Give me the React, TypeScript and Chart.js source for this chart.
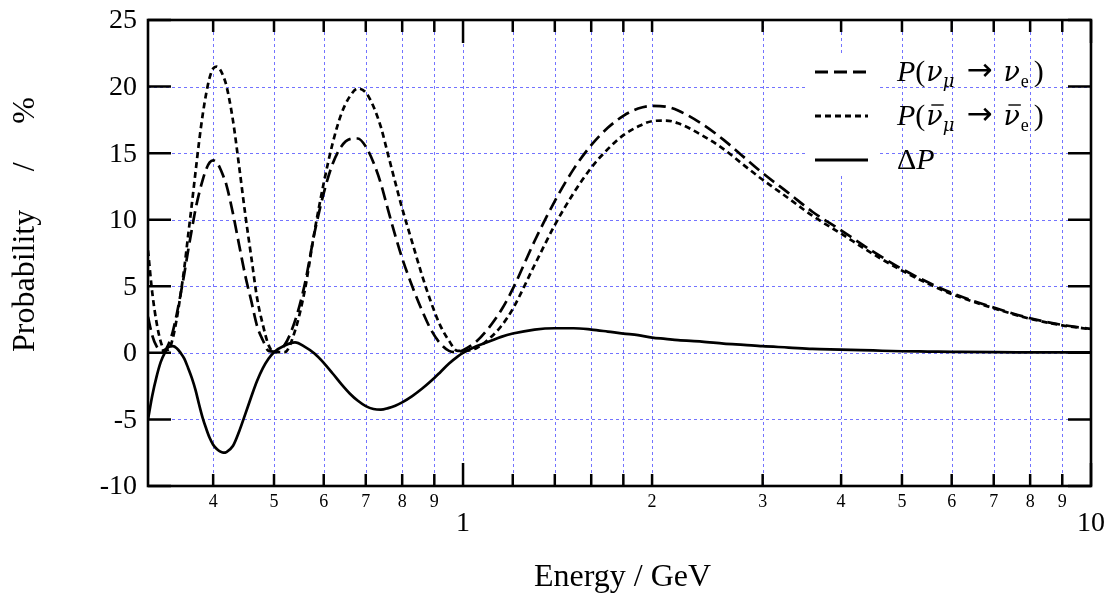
import React, { useEffect, useRef } from "react";
import { Chart, registerables } from "chart.js";

Chart.register(...registerables);

// ---------------- data ----------------
const energies = [
  0.315, 0.32, 0.325, 0.33, 0.335, 0.34, 0.345, 0.35, 0.355, 0.36, 0.365, 0.37, 0.375, 0.38, 0.385,
  0.39, 0.395, 0.4, 0.405, 0.41, 0.415, 0.42, 0.43, 0.44, 0.45, 0.46, 0.47, 0.48, 0.49, 0.5,
  0.52, 0.54, 0.56, 0.58, 0.6, 0.62, 0.64, 0.66, 0.68, 0.7, 0.72, 0.74, 0.76, 0.78, 0.8, 0.83,
  0.86, 0.89, 0.92, 0.95, 0.98,
  1.0, 1.05, 1.1, 1.15, 1.2, 1.3, 1.4, 1.5, 1.6, 1.7, 1.8, 1.9, 2.0, 2.1, 2.2, 2.4, 2.6, 2.8,
  3.0, 3.3, 3.6, 4.0, 4.5, 5, 5.5, 6, 7, 8, 9, 10,
];

const pNuMuToNuE = [
  2.7, 1.3, 0.5, 0.15, 0.2, 0.7, 1.6, 2.9, 4.4, 6.0, 7.7, 9.3, 10.8, 12.0, 13.0,
  13.8, 14.3, 14.45, 14.3, 13.9, 13.3, 12.6, 10.5, 8.1, 5.8, 3.9, 2.0, 0.95, 0.15, 0.1,
  0.6, 2.4, 5.2, 9.0, 12.0, 14.2, 15.5, 16.05, 16.1, 15.5, 14.3, 12.7, 10.7, 8.8, 7.1, 5.0,
  3.2, 1.7, 0.7, 0.15, 0.05,
  0.2, 0.85, 1.9, 3.2, 4.8, 8.4, 11.4, 13.8, 15.6, 16.9, 17.8, 18.35, 18.55, 18.5, 18.2, 17.2, 16.0, 14.7,
  13.5, 12.0, 10.6, 9.2, 7.6, 6.3, 5.3, 4.5, 3.4, 2.6, 2.1, 1.8,
];

const pAntiNuMuToAntiNuE = [
  7.7, 4.5, 2.3, 0.85, 0.2, 0.25, 1.1, 2.55, 4.4, 6.45, 8.85, 11.2, 13.6, 15.9, 17.9,
  19.5, 20.7, 21.35, 21.5, 21.3, 20.8, 20.05, 17.5, 14.0, 10.4, 7.2, 4.1, 2.1, 0.6, 0.05,
  0.05, 1.65, 4.75, 9.1, 12.75, 15.75, 17.95, 19.25, 19.85, 19.55, 18.5, 16.95, 14.85, 12.8, 10.85, 8.3,
  5.85, 3.75, 2.05, 0.9, 0.15,
  0.15, 0.35, 1.05, 2.0, 3.3, 6.6, 9.6, 12.0, 13.9, 15.3, 16.35, 17.0, 17.4, 17.45, 17.25, 16.35, 15.3, 14.1,
  13.0, 11.6, 10.3, 8.95, 7.42, 6.18, 5.2, 4.42, 3.35, 2.56, 2.07, 1.77,
];

const deltaP = [
  -5.0, -3.2, -1.8, -0.7, 0.0, 0.45, 0.5, 0.35, 0.0, -0.45, -1.15, -1.9, -2.8, -3.9, -4.9,
  -5.7, -6.4, -6.9, -7.2, -7.4, -7.5, -7.45, -7.0, -5.9, -4.6, -3.3, -2.1, -1.15, -0.45, 0.05,
  0.55, 0.78, 0.45, -0.05, -0.75, -1.55, -2.35, -3.05, -3.6, -4.0, -4.22, -4.27, -4.15, -3.97, -3.72, -3.25,
  -2.7, -2.1, -1.45, -0.8, -0.28,
  0.0, 0.5, 0.85, 1.2, 1.45, 1.75, 1.85, 1.85, 1.75, 1.6, 1.45, 1.33, 1.15, 1.05, 0.95, 0.85, 0.7, 0.6,
  0.5, 0.4, 0.3, 0.25, 0.18, 0.12, 0.1, 0.08, 0.05, 0.04, 0.03, 0.03,
];

const xMin = 0.315;
const xMax = 10;
const xTickValues = [0.4, 0.5, 0.6, 0.7, 0.8, 0.9, 1, 1.2, 1.4, 1.6, 1.8, 2, 3, 4, 5, 6, 7, 8, 9, 10];
const xTickLabels = ["4", "5", "6", "7", "8", "9", "1", "", "", "", "", "2", "3", "4", "5", "6", "7", "8", "9", "10"];
const xMajorTicks = [1, 10];
const yMin = -10;
const yMax = 25;
const yTickValues = [-10, -5, 0, 5, 10, 15, 20, 25];
const yTickLabels = ["-10", "-5", "0", "5", "10", "15", "20", "25"];

const xTitle = "Energy / GeV";
const yTitleWords = ["Probability", "/", "%"];

// ---------------- styling ----------------
const FONT = '"Liberation Serif", "DejaVu Serif", serif';
const GREEK = '"DejaVu Serif", "Liberation Serif", serif';
const ARROW_FONT = '"DejaVu Sans", "DejaVu Serif", sans-serif';
const GRID_COLOR = "rgba(90, 90, 255, 0.85)";

type Piece = { t: string; italic?: boolean; sub?: boolean; bar?: boolean; family?: string; padL?: number; padR?: number; size?: number };

const nuPieces = (bar: boolean): Piece[] => [
  { t: "P", italic: true },
  { t: "(", padR: 1 },
  { t: "\u03BD", italic: true, bar, family: GREEK, size: 27 },
  { t: "\u03BC", italic: true, sub: true, family: GREEK },
  { t: "\u2192", family: ARROW_FONT, padL: 12, padR: 11, size: 31 },
  { t: "\u03BD", italic: true, bar, family: GREEK, size: 27 },
  { t: "e", sub: true, padL: 1 },
  { t: ")", padL: 5 },
];

const legendRows: { dash: number[]; pieces: Piece[] }[] = [
  { dash: [13, 6], pieces: nuPieces(false) },
  { dash: [6, 4], pieces: nuPieces(true) },
  { dash: [], pieces: [{ t: "\u0394" }, { t: "P", italic: true }] },
];

function drawMath(ctx: CanvasRenderingContext2D, x0: number, baseline: number, pieces: Piece[]) {
  let x = x0;
  ctx.textAlign = "left";
  ctx.textBaseline = "alphabetic";
  for (const p of pieces) {
    const size = p.size || (p.sub ? 18 : 30);
    ctx.font = `${p.italic ? "italic " : ""}${size}px ${p.family || FONT}`;
    x += p.padL || 0;
    const y = p.sub ? baseline + 6 : p.family === ARROW_FONT ? baseline - 1 : baseline;
    ctx.fillText(p.t, x, y);
    const w = ctx.measureText(p.t).width;
    if (p.bar) {
      ctx.save();
      ctx.lineWidth = 1.4;
      ctx.setLineDash([]);
      ctx.beginPath();
      ctx.moveTo(x + 5, baseline - 20);
      ctx.lineTo(x + w + 1, baseline - 20);
      ctx.stroke();
      ctx.restore();
    }
    x += w + (p.padR || 0);
  }
}

const gridPlugin = {
  id: "gridManual",
  beforeDatasetsDraw(chart: any) {
    const { ctx, chartArea: a, scales } = chart;
    ctx.save();
    ctx.strokeStyle = GRID_COLOR;
    ctx.lineWidth = 1;
    ctx.setLineDash([3, 3]);
    ctx.beginPath();
    xTickValues.forEach((v) => {
      const x = Math.round(scales.x.getPixelForValue(v)) + 0.5;
      ctx.moveTo(x, a.top);
      ctx.lineTo(x, a.bottom);
    });
    yTickValues.forEach((v) => {
      const y = Math.round(scales.y.getPixelForValue(v)) + 0.5;
      ctx.moveTo(a.left, y);
      ctx.lineTo(a.right, y);
    });
    ctx.stroke();
    ctx.restore();
  },
};

const decorPlugin = {
  id: "decor",
  afterDatasetsDraw(chart: any) {
    const { ctx, chartArea: a, scales } = chart;
    const xs = scales.x;
    const ys = scales.y;
    ctx.save();

    // legend
    ctx.fillStyle = "#fff";
    ctx.fillRect(808, 56, 70, 118);
    ctx.fillStyle = "#000";
    ctx.strokeStyle = "#000";
    ctx.lineWidth = 2.8;
    legendRows.forEach((row, i) => {
      const cy = 72 + i * 44;
      ctx.setLineDash(row.dash);
      ctx.beginPath();
      ctx.moveTo(815, cy);
      ctx.lineTo(868, cy);
      ctx.stroke();
      ctx.setLineDash([]);
      drawMath(ctx, 897, cy + 9, row.pieces);
    });

    // inward ticks
    ctx.setLineDash([]);
    ctx.lineWidth = 2.5;
    ctx.beginPath();
    yTickValues.forEach((v) => {
      const y = ys.getPixelForValue(v);
      ctx.moveTo(a.left, y);
      ctx.lineTo(a.left + 23, y);
      ctx.moveTo(a.right, y);
      ctx.lineTo(a.right - 23, y);
    });
    xTickValues.forEach((v) => {
      const x = xs.getPixelForValue(v);
      const len = xMajorTicks.includes(v) ? 23 : 12;
      ctx.moveTo(x, a.bottom);
      ctx.lineTo(x, a.bottom - len);
      ctx.moveTo(x, a.top);
      ctx.lineTo(x, a.top + len);
    });
    ctx.stroke();

    // frame
    ctx.lineWidth = 2.6;
    ctx.strokeRect(a.left, a.top, a.right - a.left, a.bottom - a.top);

    // y tick labels
    ctx.fillStyle = "#000";
    ctx.font = `28px ${FONT}`;
    ctx.textAlign = "right";
    ctx.textBaseline = "middle";
    yTickValues.forEach((v, i) => {
      ctx.fillText(yTickLabels[i], a.left - 11, ys.getPixelForValue(v) + 1);
    });

    // x tick labels
    ctx.textAlign = "center";
    ctx.textBaseline = "alphabetic";
    xTickValues.forEach((v, i) => {
      const label = xTickLabels[i];
      if (!label) return;
      const x = xs.getPixelForValue(v);
      if (xMajorTicks.includes(v)) {
        ctx.font = `28px ${FONT}`;
        ctx.fillText(label, x, a.bottom + 45);
      } else {
        ctx.font = `18px ${FONT}`;
        ctx.fillText(label, x, a.bottom + 21);
      }
    });

    // axis titles
    ctx.font = `32px ${FONT}`;
    ctx.textAlign = "center";
    ctx.textBaseline = "alphabetic";
    ctx.fillText(xTitle, (a.left + a.right) / 2 + 3, 586);

    // y title: spans from y=352 (start) to y=97 (end), words spread
    ctx.save();
    ctx.translate(34, 352);
    ctx.rotate(-Math.PI / 2);
    ctx.textAlign = "left";
    const widths = yTitleWords.map((w) => ctx.measureText(w).width);
    const total = 255;
    const gap = (total - widths.reduce((s, w) => s + w, 0)) / (yTitleWords.length - 1);
    let px = 0;
    yTitleWords.forEach((w, i) => {
      ctx.fillText(w, px, 0);
      px += widths[i] + gap;
    });
    ctx.restore();

    ctx.restore();
  },
};

export default function App() {
  const canvasRef = useRef<HTMLCanvasElement | null>(null);

  useEffect(() => {
    document.body.style.margin = "0";
    const canvas = canvasRef.current;
    if (!canvas) return;

    const toPoints = (vals: number[]) => energies.map((e, i) => ({ x: e, y: vals[i] }));

    const common = {
      borderColor: "#000",
      backgroundColor: "#000",
      borderWidth: 2.7,
      pointRadius: 0,
      fill: false,
      cubicInterpolationMode: "monotone" as const,
    };

    const chart = new Chart(canvas, {
      type: "line",
      data: {
        datasets: [
          { ...common, label: "P(νμ → νe)", data: toPoints(pNuMuToNuE), borderDash: [13, 6] },
          { ...common, label: "P(ν̄μ → ν̄e)", data: toPoints(pAntiNuMuToAntiNuE), borderDash: [6, 4] },
          { ...common, label: "ΔP", data: toPoints(deltaP) },
        ],
      },
      options: {
        animation: false,
        responsive: false,
        devicePixelRatio: 1,
        layout: { padding: { top: 20, right: 27, left: 148, bottom: 114 } },
        plugins: {
          legend: { display: false },
          tooltip: { enabled: false },
        },
        scales: {
          x: {
            type: "logarithmic",
            min: xMin,
            max: xMax,
            bounds: "data",
            display: false,
            afterBuildTicks: (scale: any) => {
              scale.min = xMin;
              scale.max = xMax;
            },
          },
          y: {
            type: "linear",
            min: yMin,
            max: yMax,
            bounds: "data",
            display: false,
            afterBuildTicks: (scale: any) => {
              scale.min = yMin;
              scale.max = yMax;
            },
          },
        },
      },
      plugins: [gridPlugin, decorPlugin],
    });

    return () => chart.destroy();
  }, []);

  return <canvas ref={canvasRef} width={1118} height={600} style={{ display: "block" }} />;
}
